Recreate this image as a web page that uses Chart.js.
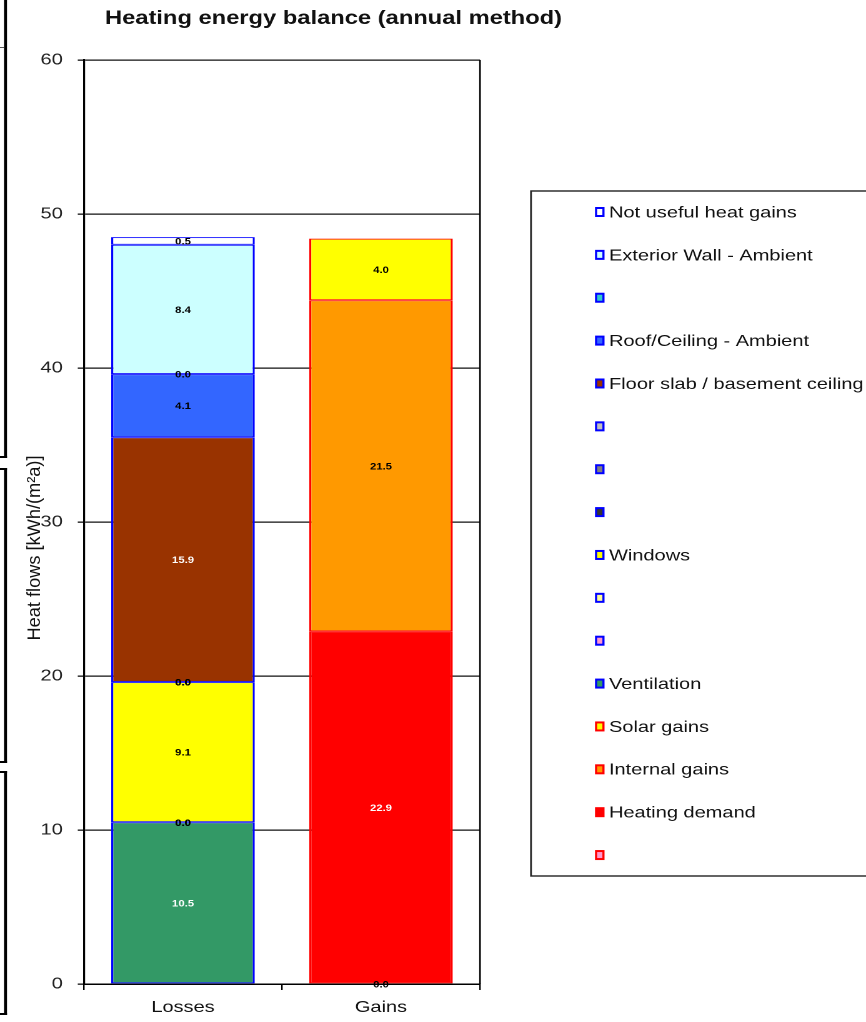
<!DOCTYPE html>
<html><head><meta charset="utf-8">
<script src="https://cdn.jsdelivr.net/npm/chart.js@4.4.1/dist/chart.umd.min.js"></script>
<style>
html,body{margin:0;padding:0;background:#fff;overflow:hidden;width:866px;height:1022px}
#wrap{position:absolute;left:0;top:0;width:693px;height:1022px;transform:scaleX(1.24964);transform-origin:0 0}
canvas{display:block}
</style></head><body>
<div id="wrap"><canvas id="c" width="693" height="1022" style="width:693px;height:1022px"></canvas></div>
<script>
// ---- data (stack order: bottom -> top) ----
const categories = ['Losses', 'Gains'];
const seriesNames = ['', 'Heating demand', 'Internal gains', 'Solar gains', 'Ventilation', '', '', 'Windows', '', '', '', 'Floor slab / basement ceiling', 'Roof/Ceiling - Ambient', '', 'Exterior Wall - Ambient', 'Not useful heat gains'];
const lossValues = [null, null, null, null, 10.5, 0, 0, 9.1, 0, 0, 0, 15.9, 4.1, 0, 8.4, 0.5];
const gainValues = [0, 22.9, 21.5, 4.0, null, null, null, null, null, null, null, null, null, null, null, null];
const yMin = 0, yMax = 60, yStep = 10;
const chartTitle = 'Heating energy balance (annual method)';
const yTitle = 'Heat flows [kWh/(m²a)]';

// ---- styles ----
const fillColors = ['#FF99CC', '#FF0000', '#FF9900', '#FFFF00', '#339966', '#FF99CC', '#FFFF99', '#FFFF00', '#333333', '#808080', '#C0C0C0', '#993300', '#3366FF', '#33CCCC', '#CCFFFF', '#FFFFFF'];
const edgeColors = ['#FF0000', '#FF0000', '#FF0000', '#FF0000', '#0000FF', '#0000FF', '#0000FF', '#0000FF', '#0000FF', '#0000FF', '#0000FF', '#0000FF', '#0000FF', '#0000FF', '#0000FF', '#0000FF'];
const labelColors = ['#000', '#fff', '#000', '#000', '#fff', '#000', '#000', '#000', '#000', '#000', '#000', '#fff', '#000', '#000', '#000', '#000'];

const SX = 866 / 693;           // horizontal stretch of the whole picture
const FAM = '"Liberation Sans", Arial, sans-serif';
Chart.defaults.font.family = FAM;

const datasets = seriesNames.map((name, i) => ({
  label: name,
  data: [lossValues[i], gainValues[i]],
  backgroundColor: fillColors[i],
  borderColor: edgeColors[i],
  borderWidth: {top: 1, bottom: 1, left: 1.7, right: 1.7},
  borderSkipped: false,
  barPercentage: 0.725,
  categoryPercentage: 1,
  stack: 's'
}));

const deco = {
  id: 'deco',
  beforeDraw(chart) {
    const ctx = chart.ctx;
    ctx.save();
    ctx.fillStyle = '#fff';
    ctx.fillRect(0, 0, chart.width, chart.height);
    // fragments of neighbouring frames on the left edge
    ctx.fillStyle = '#000';
    [[0, 458], [468, 763], [771, 1015]].forEach(([a, b]) => {
      ctx.fillRect(4 / SX, a, 3 / SX, b - a);
      if (a > 0) ctx.fillRect(0, a, 7 / SX, 2);
      ctx.fillRect(0, b - 2, 7 / SX, 2);
    });
    ctx.fillStyle = '#555';
    ctx.fillRect(0, 47, 4 / SX, 1);
    ctx.restore();
  },
  afterDatasetsDraw(chart) {
    const ctx = chart.ctx;
    ctx.save();
    ctx.font = 'bold 9px ' + FAM;
    ctx.textAlign = 'center';
    ctx.textBaseline = 'middle';
    chart.data.datasets.forEach((ds, i) => {
      const meta = chart.getDatasetMeta(i);
      meta.data.forEach((bar, j) => {
        const v = ds.data[j];
        if (v === null || v === undefined) return;
        const p = bar.getProps(['x', 'y', 'base'], true);
        ctx.fillStyle = labelColors[i];
        ctx.fillText(v.toFixed(1), p.x, (p.y + p.base) / 2 + 1);
      });
    });
    ctx.restore();
  },
  afterDraw(chart) {
    const ctx = chart.ctx;
    const ca = chart.chartArea;
    ctx.save();
    // plot area right border
    ctx.strokeStyle = '#000';
    ctx.lineWidth = 1.3;
    ctx.beginPath();
    ctx.moveTo(ca.right, ca.top);
    ctx.lineTo(ca.right, ca.bottom);
    ctx.stroke();
    // title
    ctx.fillStyle = '#111';
    ctx.font = 'bold 19px ' + FAM;
    ctx.textAlign = 'center';
    ctx.textBaseline = 'middle';
    let w = ctx.measureText(chartTitle).width;
    ctx.save();
    ctx.translate(266.9, 19);
    ctx.scale((457 / SX) / w, 1);
    ctx.fillText(chartTitle, 0, 0);
    ctx.restore();
    // y axis title
    ctx.font = '15px ' + FAM;
    w = ctx.measureText(yTitle).width;
    ctx.save();
    ctx.translate(35 / SX, 548);
    ctx.rotate(-Math.PI / 2);
    ctx.scale(185 / w, 1);
    ctx.fillText(yTitle, 0, 0);
    ctx.restore();
    // legend box
    ctx.strokeStyle = '#222';
    ctx.lineWidth = 1.4;
    ctx.strokeRect(531 / SX, 191, 400, 685);
    ctx.font = '16px ' + FAM;
    ctx.textAlign = 'left';
    const n = chart.data.datasets.length;
    for (let k = 0; k < n; k++) {
      const i = n - 1 - k;
      const ds = chart.data.datasets[i];
      const y = 212 + k * 42.87;
      const mx = 595 / SX, mw = 9.5 / SX, mh = 10;
      ctx.fillStyle = ds.borderColor;
      ctx.fillRect(mx, y - mh / 2, mw, mh);
      ctx.fillStyle = ds.backgroundColor;
      ctx.fillRect(mx + 1.7, y - mh / 2 + 2, mw - 3.4, mh - 4);
      ctx.fillStyle = '#111';
      ctx.fillText(ds.label, 609 / SX, y + 1);
    }
    ctx.restore();
  }
};

new Chart(document.getElementById('c'), {
  type: 'bar',
  data: {labels: categories, datasets},
  options: {
    responsive: false,
    animation: false,
    devicePixelRatio: 2,
    layout: {padding: {top: 60, left: 0, right: 693 - 480 / SX, bottom: 0}},
    plugins: {legend: {display: false}, title: {display: false}, tooltip: {enabled: false}},
    scales: {
      x: {
        stacked: true,
        grid: {display: true, drawOnChartArea: false, drawTicks: true, tickLength: 6, color: '#000', lineWidth: 1.2},
        border: {display: true, color: '#000', width: 1.5},
        ticks: {font: {size: 16}, color: '#111', padding: 8},
        afterFit(s) { s.height = 38; }
      },
      y: {
        stacked: true,
        min: yMin, max: yMax,
        ticks: {stepSize: yStep, font: {size: 16}, color: '#222', padding: 12},
        grid: {color: '#111', lineWidth: 1.3, drawTicks: true, tickLength: 5},
        border: {display: true, color: '#000', width: 1.6},
        afterFit(s) { s.width = 84 / SX; }
      }
    }
  },
  plugins: [deco]
});
</script>
</body></html>
